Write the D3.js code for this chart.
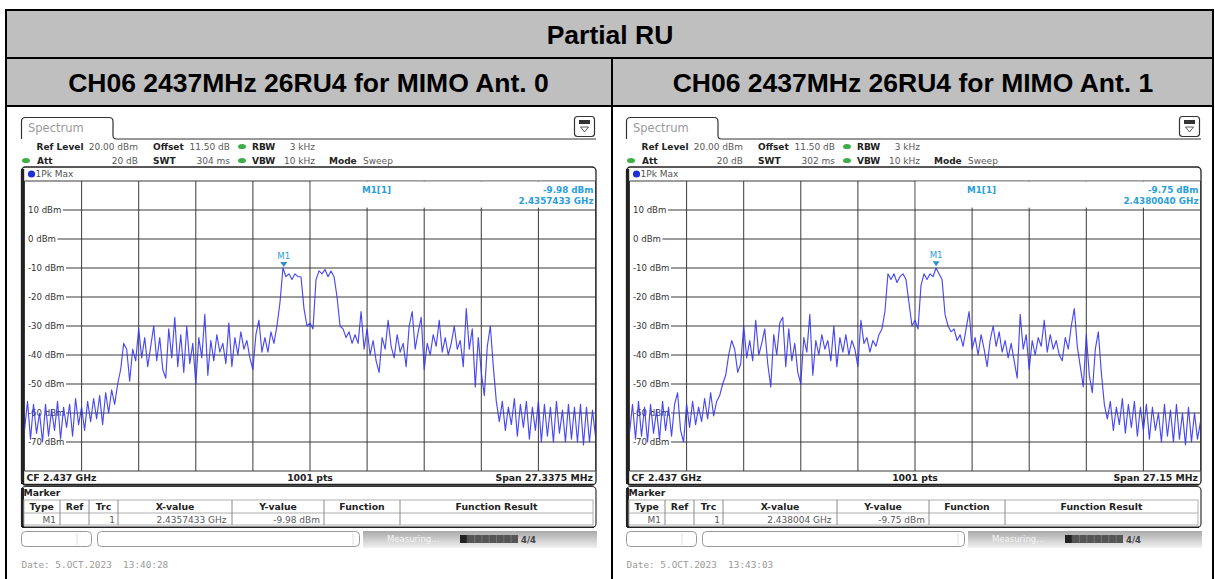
<!DOCTYPE html>
<html><head><meta charset="utf-8">
<script src="https://cdn.jsdelivr.net/npm/d3@7"></script>
<style>
body{margin:0;background:#fff;}
svg{display:block;}
text{white-space:pre;}
</style></head><body>
<svg id="c" width="1215" height="579"></svg>
<script>
// ---------------- data ----------------
const tableTitle = "Partial RU";
const panelTitles = ["CH06 2437MHz 26RU4 for MIMO Ant. 0", "CH06 2437MHz 26RU4 for MIMO Ant. 1"];
const centerFreqMHz = 2437;
const spansMHz = [27.3375, 27.15];
const sweepTimes = ["304 ms", "302 ms"];
const markerFreqMHz = [2435.7433, 2438.0040];
const markerLevels = [-9.98, -9.75];
const markerFreqLabels = ["2.4357433 GHz", "2.4380040 GHz"];
const markerTableX = ["2.4357433 GHz", "2.438004 GHz"];
const markerLevelLabels = ["-9.98 dBm", "-9.75 dBm"];
const spanLabels = ["Span 27.3375 MHz", "Span 27.15 MHz"];
const dates = ["Date: 5.OCT.2023  13:40:28", "Date: 5.OCT.2023  13:43:03"];
const yTicks = [10, 0, -10, -20, -30, -40, -50, -60, -70];
const yGridLevels = [20, 10, 0, -10, -20, -30, -40, -50, -60, -70, -80];
const markerColumns = ["Type", "Ref", "Trc", "X-value", "Y-value", "Function", "Function Result"];

// trace values (dBm), evenly spaced sweep points across the span
const trace0 = [
 -66,-56,-69,-57,-67,-60,-70,-57,-68,-59,-66,-56,-69,-58,-65,-57,-68,-55,-64,-58,-66,-56,-63,-55,-62,-54,-64,-53,-60,-52,-57,
 -50,-45,-36,-38,-49,-38,
 -42,-31,-41,-34,-44,-37,-30,-42,-34,-45,-48,-31,-41,-27,-44,-33,-46,-30,-43,-36,-50,-34,-41,-26,-47,-35,-42,-33,-39,-36,-43,-29,-44,-34,-40,-32,-38,-35,-41,-45,-33,-28,-39,-34,-39,-32,-36,-30,
 -22,-10,-13,-12,-14,-12,-13,-13,-24,-30,-29,-31,-14,-11,-12,-10.5,-13,-11,-13,-20,-30,-31,-34,-32,-36,
 -33,-36,-25,-38,-31,-40,-35,-42,-46,-34,-38,-28,-37,-41,-33,-39,-36,-44,-30,-25,-38,-32,-27,-45,-36,-40,-33,-37,-28,-39,-34,-40,-36,-30,-38,-35,-44,-24,-38,-31,-51,-34,-46,-54,-37,-30,-44,-56,
 -63,-56,-66,-58,-64,-55,-68,-57,-65,-56,-69,-58,-66,-56,-70,-57,-68,-58,-70,-56,-67,-59,-70,-57,-69,-58,-70,-57,-71,-58,-70,-59,-68
];
const trace1 = [
 -67,-57,-69,-56,-68,-58,-70,-57,-67,-59,-69,-56,-66,-58,-68,-57,-53,-66,-70,-57,-65,-56,-64,-58,-63,-55,-62,-53,-61,-56,-54,
 -50,-47,-40,-35,-38,-46,
 -43,-30,-41,-35,-42,-28,-40,-36,-31,-43,-51,-33,-40,-29,-27,-44,-31,-42,-36,-46,-50,-34,-39,-26,-47,-35,-40,-33,-38,-35,-42,-30,-44,-34,-39,-33,-40,-35,-38,-44,-28,-36,-34,-39,-35,-37,-33,-31,
 -25,-12,-14,-12,-15,-13,-12,-14,-22,-30,-28,-31,-16,-12,-14,-12,-13,-10,-12,-14,-26,-30,-32,-31,-35,
 -33,-37,-31,-25,-38,-34,-40,-33,-38,-44,-35,-30,-37,-32,-39,-35,-41,-36,-42,-48,-26,-38,-33,-45,-35,-40,-34,-37,-28,-39,-33,-38,-35,-40,-42,-34,-38,-30,-24,-37,-44,-51,-33,-47,-53,-38,-32,-46,
 -57,-62,-56,-66,-58,-64,-55,-67,-57,-65,-56,-68,-58,-66,-57,-69,-58,-66,-60,-70,-57,-68,-59,-70,-57,-69,-60,-71,-58,-70,-60,-69,-63
];
const traces = [trace0, trace1];

// ---------------- drawing ----------------
const svg = d3.select("#c");
const UI = "DejaVu Sans, Verdana, sans-serif";
const MONO = "DejaVu Sans Mono, monospace";
const BLUE_TXT = "#2a9ed8";

svg.append("rect").attr("width", 1215).attr("height", 579).attr("fill", "#fff");
svg.append("rect").attr("x", 6).attr("y", 10).attr("width", 1207).attr("height", 96).attr("fill", "#bfbfbf");

svg.append("text").attr("x", 610).attr("y", 43.5).attr("text-anchor", "middle")
  .attr("font-family", "Liberation Sans, Arial, sans-serif").attr("font-weight", "bold")
  .attr("font-size", 26.5).attr("fill", "#000").text(tableTitle);

[308.5, 913].forEach((cx, i) => {
  svg.append("text").attr("x", cx).attr("y", 91.5).attr("text-anchor", "middle")
    .attr("font-family", "Liberation Sans, Arial, sans-serif").attr("font-weight", "bold")
    .attr("font-size", 26.5).attr("fill", "#000").text(panelTitles[i]);
});

function txt(g, x, y, s, opt = {}) {
  return g.append("text").attr("x", x).attr("y", y)
    .attr("font-family", opt.family || UI)
    .attr("font-size", opt.size || 9)
    .attr("font-weight", opt.bold ? "bold" : "normal")
    .attr("fill", opt.fill || "#222")
    .attr("text-anchor", opt.anchor || "start")
    .text(s);
}

function drawPanel(p, dx) {
  const g = svg.append("g").attr("transform", `translate(${dx},0)`);
  const span = spansMHz[p];
  const f0 = centerFreqMHz - span / 2, f1 = centerFreqMHz + span / 2;
  const xs = d3.scaleLinear().domain([f0, f1]).range([24.5, 595.5]);
  const ys = d3.scaleLinear().domain([-80, 20]).range([471, 181]);

  // tab + top line
  g.append("path")
    .attr("d", "M21.5,139 V121.5 Q21.5,117.5 25.5,117.5 H109 Q113,117.5 113,121.5 V135.5 Q113,139 116.5,139 H596")
    .attr("fill", "none").attr("stroke", "#333").attr("stroke-width", 1.2);
  txt(g, 28, 132, "Spectrum", { size: 11.5, fill: "#9a9a9a" });
  // icon
  g.append("rect").attr("x", 574.5).attr("y", 116.5).attr("width", 20).attr("height", 20).attr("rx", 3)
    .attr("fill", "#fff").attr("stroke", "#333").attr("stroke-width", 1.2);
  g.append("rect").attr("x", 579).attr("y", 120).attr("width", 11).attr("height", 4).attr("fill", "#333");
  g.append("path").attr("d", "M580.5,127 H588.5 L584.5,132 Z").attr("fill", "#fff").attr("stroke", "#333").attr("stroke-width", 0.8);

  // header info
  const L1 = 149.5, L2 = 163.5, VAL = "#5a5a5a";
  txt(g, 36.5, L1, "Ref Level", { bold: true });
  txt(g, 138, L1, "20.00 dBm", { fill: VAL, anchor: "end" });
  txt(g, 153, L1, "Offset", { bold: true });
  txt(g, 230, L1, "11.50 dB", { fill: VAL, anchor: "end" });
  txt(g, 252, L1, "RBW", { bold: true });
  txt(g, 315, L1, "3 kHz", { fill: VAL, anchor: "end" });
  txt(g, 37, L2, "Att", { bold: true });
  txt(g, 138, L2, "20 dB", { fill: VAL, anchor: "end" });
  txt(g, 153, L2, "SWT", { bold: true });
  txt(g, 230, L2, sweepTimes[p], { fill: VAL, anchor: "end" });
  txt(g, 252, L2, "VBW", { bold: true });
  txt(g, 315, L2, "10 kHz", { fill: VAL, anchor: "end" });
  txt(g, 329, L2, "Mode", { bold: true });
  txt(g, 363, L2, "Sweep", { fill: VAL });
  [[242, 146.5], [242, 160.5], [26, 160.5]].forEach(d => {
    g.append("ellipse").attr("cx", d[0]).attr("cy", d[1]).attr("rx", 4).attr("ry", 2.6).attr("fill", "#3fae49");
  });

  // plot frame
  g.append("rect").attr("x", 21.5).attr("y", 167).attr("width", 574.5).attr("height", 318).attr("rx", 4)
    .attr("fill", "#fff").attr("stroke", "#222").attr("stroke-width", 1.3);
  g.append("rect").attr("x", 21).attr("y", 169).attr("width", 3.2).attr("height", 315).attr("fill", "#222");
  g.append("line").attr("x1", 23).attr("x2", 594).attr("y1", 484.6).attr("y2", 484.6).attr("stroke", "#222").attr("stroke-width", 1.5);
  g.append("circle").attr("cx", 31.5).attr("cy", 174).attr("r", 3.6).attr("fill", "#1f2fd8");
  txt(g, 35.5, 177.3, "1Pk Max", { fill: "#555" });

  // grid
  const gridColor = "#3a3a3a";
  g.append("g").selectAll("line").data(yGridLevels).join("line")
    .attr("x1", 24.5).attr("x2", 595.5).attr("y1", d => ys(d)).attr("y2", d => ys(d))
    .attr("stroke", gridColor).attr("stroke-width", 1);
  const vGrid = d3.range(11).map(k => f0 + k * span / 10);
  g.append("g").selectAll("line").data(vGrid).join("line")
    .attr("x1", d => xs(d)).attr("x2", d => xs(d)).attr("y1", 181).attr("y2", 471)
    .attr("stroke", gridColor).attr("stroke-width", 1);

  // marker readout box
  const bx = xs(vGrid[5]) + 0.8;
  g.append("rect").attr("x", bx).attr("y", 181.6).attr("width", 595 - bx).attr("height", 26)
    .attr("fill", "#fff");
  txt(g, 362, 193, "M1[1]", { bold: true, fill: BLUE_TXT, size: 8.8 });
  txt(g, 593.5, 193, markerLevelLabels[p], { bold: true, fill: BLUE_TXT, size: 8.8, anchor: "end" });
  txt(g, 593.5, 204, markerFreqLabels[p], { bold: true, fill: BLUE_TXT, size: 8.8, anchor: "end" });

  // y labels with white background
  yTicks.forEach(v => {
    const t = txt(g, 28, ys(v) + 3.2, v + " dBm", { size: 8.6, fill: "#333" });
    const w = t.node().getComputedTextLength();
    g.insert("rect", () => t.node()).attr("x", 25).attr("y", ys(v) - 5).attr("width", w + 4.5).attr("height", 10).attr("fill", "#fff");
  });

  // trace
  const data = traces[p];
  const step = span / (data.length - 1);
  g.append("clipPath").attr("id", "clip" + p).append("rect")
    .attr("x", 24.5).attr("y", 181.5).attr("width", 571).attr("height", 289.5);
  g.append("path").datum(data)
    .attr("clip-path", `url(#clip${p})`)
    .attr("fill", "none").attr("stroke", "#3535f2").attr("stroke-width", 1.15).attr("stroke-opacity", 0.9)
    .attr("stroke-linejoin", "round")
    .attr("d", d3.line().x((d, i) => xs(f0 + i * step)).y(d => ys(d)));

  // marker M1
  const mx = xs(markerFreqMHz[p]), my = ys(markerLevels[p]);
  g.append("path").attr("d", `M${mx - 3.5},${my - 6} H${mx + 3.5} L${mx},${my - 1} Z`).attr("fill", "#2a8fd0");
  txt(g, mx, my - 9, "M1", { fill: BLUE_TXT, size: 8.6, anchor: "middle" });

  // bottom row
  txt(g, 26.5, 480.5, "CF 2.437 GHz", { bold: true, size: 9.3 });
  txt(g, 310, 480.5, "1001 pts", { bold: true, size: 9.3, anchor: "middle" });
  txt(g, 593, 480.5, spanLabels[p], { bold: true, size: 9.3, anchor: "end" });

  // marker table
  g.append("rect").attr("x", 21.5).attr("y", 486.5).attr("width", 574.5).attr("height", 41).attr("rx", 4)
    .attr("fill", "#fff").attr("stroke", "#333").attr("stroke-width", 1.2);
  g.append("rect").attr("x", 21).attr("y", 488).attr("width", 3).attr("height", 39).attr("fill", "#222");
  g.append("line").attr("x1", 22).attr("x2", 594).attr("y1", 527.3).attr("y2", 527.3).attr("stroke", "#222").attr("stroke-width", 1.6);
  txt(g, 23.5, 496, "Marker", { bold: true, size: 9.3 });
  const colEdges = [23.5, 60, 89, 118, 232, 324, 400, 593];
  g.append("rect").attr("x", 24).attr("y", 500).attr("width", 569).attr("height", 25).attr("fill", "none").attr("stroke", "#b0b0b0");
  g.append("line").attr("x1", 24).attr("x2", 593).attr("y1", 513).attr("y2", 513).attr("stroke", "#b0b0b0");
  colEdges.slice(1, -1).forEach(x => {
    g.append("line").attr("x1", x).attr("x2", x).attr("y1", 500).attr("y2", 525).attr("stroke", "#8a8a8a");
  });
  markerColumns.forEach((c, i) => {
    txt(g, (colEdges[i] + colEdges[i + 1]) / 2, 509.5, c, { bold: true, size: 9.3, anchor: "middle" });
  });
  txt(g, 56, 522.5, "M1", { fill: VAL, anchor: "end" });
  txt(g, 115, 522.5, "1", { fill: VAL, anchor: "end" });
  txt(g, 226.5, 522.5, markerTableX[p], { fill: VAL, anchor: "end" });
  txt(g, 320, 522.5, markerLevelLabels[p], { fill: VAL, anchor: "end" });

  // status bar
  g.append("rect").attr("x", 21.5).attr("y", 531.5).attr("width", 70).attr("height", 15).attr("rx", 4)
    .attr("fill", "#fff").attr("stroke", "#999");
  g.append("line").attr("x1", 77).attr("x2", 77).attr("y1", 533).attr("y2", 545).attr("stroke", "#ddd");
  g.append("rect").attr("x", 97.5).attr("y", 531.5).attr("width", 262).attr("height", 15).attr("rx", 4)
    .attr("fill", "#fff").attr("stroke", "#999");
  g.append("line").attr("x1", 353).attr("x2", 353).attr("y1", 533).attr("y2", 545).attr("stroke", "#ddd");
  const gid = "sb" + p;
  const grad = g.append("defs").append("linearGradient").attr("id", gid).attr("x1", 0).attr("x2", 0).attr("y1", 0).attr("y2", 1);
  grad.append("stop").attr("offset", 0).attr("stop-color", "#a9a9a9");
  grad.append("stop").attr("offset", 1).attr("stop-color", "#f2f2f2");
  g.append("rect").attr("x", 363).attr("y", 531).attr("width", 234).attr("height", 17).attr("fill", `url(#${gid})`);
  txt(g, 387, 542, "Measuring...", { fill: "#f4f4f4", size: 8.5 });
  g.append("rect").attr("x", 460).attr("y", 535).attr("width", 58).attr("height", 8).attr("fill", "#555");
  g.append("rect").attr("x", 460).attr("y", 535).attr("width", 8).attr("height", 8).attr("fill", "#222");
  d3.range(1, 8).forEach(k => {
    g.append("line").attr("x1", 460 + k * 7.3).attr("x2", 460 + k * 7.3).attr("y1", 535).attr("y2", 543).attr("stroke", "#888").attr("stroke-width", 0.6);
  });
  txt(g, 521, 543, "4/4", { bold: true, fill: "#444", size: 8.5 });

  // date
  txt(g, 21.5, 567.5, dates[p], { family: MONO, size: 9.4, fill: "#9a9a9a" });
}

drawPanel(0, 0);
drawPanel(1, 605);

// table borders on top
[[6, 10, 1213, 10], [6, 58, 1213, 58], [6, 106, 1213, 106], [6, 9, 6, 579], [1213, 9, 1213, 579], [612, 58, 612, 579]]
  .forEach(l => svg.append("line").attr("x1", l[0]).attr("y1", l[1]).attr("x2", l[2]).attr("y2", l[3])
    .attr("stroke", "#000").attr("stroke-width", 2));
</script>
</body></html>
